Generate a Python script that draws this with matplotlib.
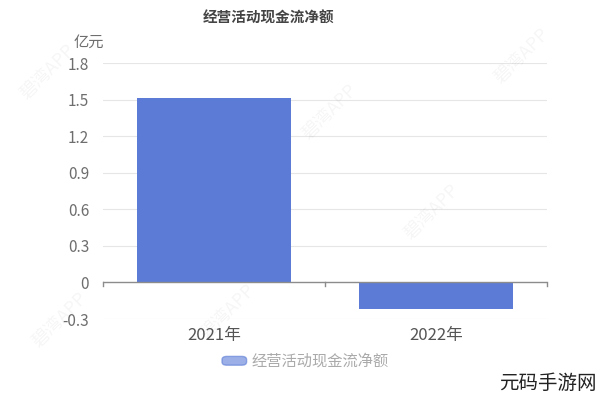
import matplotlib.pyplot as plt
import matplotlib.patches as mpatches
import numpy as np

plt.rcParams['font.family'] = ['Noto Sans CJK SC', 'DejaVu Sans']

categories = ['2021年', '2022年']
values = [1.51, -0.22]
yticks = [-0.3, 0, 0.3, 0.6, 0.9, 1.2, 1.5, 1.8]
ytick_labels = ['-0.3', '0', '0.3', '0.6', '0.9', '1.2', '1.5', '1.8']
series_name = '经营活动现金流净额'

bar_color = '#5b7bd6'
text_color = '#6e6e6e'

fig = plt.figure(figsize=(6, 4), dpi=100)
ax = fig.add_axes([0.1717, 0.2025, 0.74, 0.64])

x = np.arange(len(categories))
ax.bar(x, values, width=0.69, color=bar_color, zorder=3)

ax.set_xlim(-0.5, len(categories) - 0.5)
ax.set_ylim(-0.3, 1.8)
ax.set_yticks(yticks)
ax.set_yticklabels(ytick_labels, color=text_color, fontsize=11)
ax.set_xticks(x)
ax.set_xticklabels(categories, color='#555555', fontsize=12)
ax.tick_params(axis='y', length=0, pad=10)
ax.tick_params(axis='x', length=0, pad=6)

# 网格线
for t in yticks:
    if t != 0:
        ax.axhline(t, color='#e6e6e6', linewidth=0.8, zorder=1)
ax.axhline(0, color='#8c8c8c', linewidth=1, zorder=4)
for b in [-0.5, 0.5, 1.5]:
    ax.plot([b, b], [0, -0.03], color='#8c8c8c', linewidth=1, zorder=4, clip_on=False)

for s in ax.spines.values():
    s.set_visible(False)

fig.text(0.447, 0.955, series_name, ha='center', va='center', fontsize=10.5,
         fontweight='bold', color='#444444')
fig.text(0.148, 0.895, '亿元', ha='center', va='center', fontsize=11, color=text_color)

# 图例
fig.patches.append(mpatches.FancyBboxPatch((0.37, 0.087), 0.041, 0.022,
                   boxstyle='round,pad=0,rounding_size=0.008',
                   transform=fig.transFigure, color=bar_color, alpha=0.6))
fig.text(0.42, 0.097, series_name, ha='left', va='center', fontsize=11, color='#aaaaaa')

# 水印
for wx, wy in [(0.55, 0.72), (0.72, 0.47), (0.87, 0.86), (0.38, 0.22), (0.1, 0.2), (0.08, 0.82)]:
    fig.text(wx, wy, '碧湾APP', rotation=45, ha='center', va='center', fontsize=13,
             color='#000000', alpha=0.04)
fig.text(0.995, 0.042, '元码手游网', ha='right', va='center', fontsize=14, color='#222222')

fig.savefig('out.png', dpi=100)
